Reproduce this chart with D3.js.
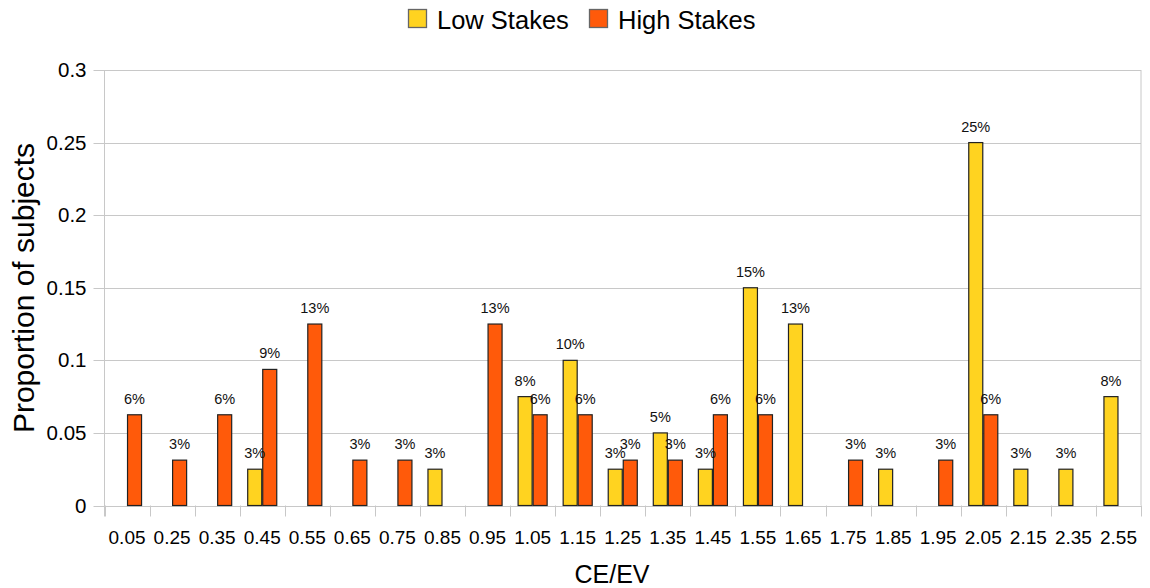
<!DOCTYPE html>
<html><head><meta charset="utf-8">
<script src="https://cdn.jsdelivr.net/npm/d3@7"></script>
<style>body{margin:0;background:#fff;}svg{display:block;font-family:"Liberation Sans",Arial,sans-serif;}</style>
</head><body>
<svg id="c" width="1150" height="588"></svg>
<script>
const categories = ["0.05","0.25","0.35","0.45","0.55","0.65","0.75","0.85","0.95","1.05","1.15","1.25","1.35","1.45","1.55","1.65","1.75","1.85","1.95","2.05","2.15","2.35","2.55"];
const lowStakes  = [0,0,0,0.025,0,0,0,0.025,0,0.075,0.1,0.025,0.05,0.025,0.15,0.125,0,0.025,0,0.25,0.025,0.025,0.075];
const highStakes = [0.0625,0.03125,0.0625,0.09375,0.125,0.03125,0.03125,0,0.125,0.0625,0.0625,0.03125,0.03125,0.0625,0.0625,0,0.03125,0,0.03125,0.0625,0,0,0];
const seriesNames = ["Low Stakes","High Stakes"];
const yTicks = [0,0.05,0.1,0.15,0.2,0.25,0.3];

const colors = ["#FFD320","#FF5A0A"];
const svg = d3.select("#c");
const m = {l:104.5, r:1141, t:70, b:505.5};
const x = d3.scaleBand().domain(categories).range([m.l,m.r]).paddingInner(0).paddingOuter(0);
const xs = d3.scaleBand().domain(seriesNames).range([0,x.bandwidth()]).paddingInner(0).paddingOuter(0.5);
const y = d3.scaleLinear().domain([0,0.3]).range([m.b,m.t]);

// grid
svg.append("g").selectAll("line").data(yTicks).join("line")
  .attr("x1",m.l-11).attr("x2",m.r).attr("y1",d=>Math.round(y(d))+0.5).attr("y2",d=>Math.round(y(d))+0.5)
  .attr("stroke","#c8c8c8").attr("stroke-width",1);
svg.append("line").attr("x1",m.l).attr("x2",m.l).attr("y1",m.t).attr("y2",m.b+11).attr("stroke","#c8c8c8");
svg.append("line").attr("x1",m.r).attr("x2",m.r).attr("y1",m.t).attr("y2",m.b).attr("stroke","#c8c8c8");
const bounds = categories.map(c=>x(c)).concat([m.r]);
svg.append("g").selectAll("line").data(bounds).join("line")
  .attr("x1",d=>Math.round(d)+0.5).attr("x2",d=>Math.round(d)+0.5).attr("y1",m.b).attr("y2",m.b+11)
  .attr("stroke","#c8c8c8");

// y labels
svg.append("g").selectAll("text").data(yTicks).join("text")
  .attr("x",m.l-18).attr("y",d=>y(d)+7).attr("text-anchor","end")
  .attr("font-size",20.5).attr("fill","#000").text(d=>String(d));
// x labels
svg.append("g").selectAll("text").data(categories).join("text")
  .attr("x",d=>x(d)+x.bandwidth()/2).attr("y",544).attr("text-anchor","middle")
  .attr("font-size",19).attr("fill","#000").text(d=>d);

// bars
const series = [lowStakes, highStakes];
const bars = [];
series.forEach((vals,si)=>vals.forEach((v,i)=>{ if(v>0) bars.push({s:si,c:categories[i],v}); }));
svg.append("g").selectAll("rect").data(bars).join("rect")
  .attr("x",d=>x(d.c)+xs(seriesNames[d.s])+0.5)
  .attr("y",d=>y(d.v))
  .attr("width",xs.bandwidth()-1)
  .attr("height",d=>y(0)-y(d.v))
  .attr("fill",d=>colors[d.s]).attr("stroke","#222").attr("stroke-width",1.2);
svg.append("g").selectAll("text").data(bars).join("text")
  .attr("x",d=>x(d.c)+xs(seriesNames[d.s])+xs.bandwidth()/2)
  .attr("y",d=>y(d.v)-11).attr("text-anchor","middle")
  .attr("font-size",14.5).attr("fill","#111").text(d=>Math.round(d.v*100)+"%");

// axis titles
svg.append("text").attr("x",612).attr("y",583).attr("text-anchor","middle").attr("font-size",25).text("CE/EV");
svg.append("text").attr("transform","translate(34,288) rotate(-90)").attr("text-anchor","middle").attr("font-size",30).text("Proportion of subjects");

// legend
const lg = svg.append("g");
const items = [{n:"Low Stakes",c:colors[0],x:408,tx:437},{n:"High Stakes",c:colors[1],x:589,tx:618}];
items.forEach(it=>{
  lg.append("rect").attr("x",it.x+0.5).attr("y",9.5).attr("width",18).attr("height",18).attr("fill",it.c).attr("stroke","#666").attr("stroke-width",1.3);
  lg.append("text").attr("x",it.tx).attr("y",29).attr("font-size",25.5).text(it.n);
});
</script>
</body></html>
